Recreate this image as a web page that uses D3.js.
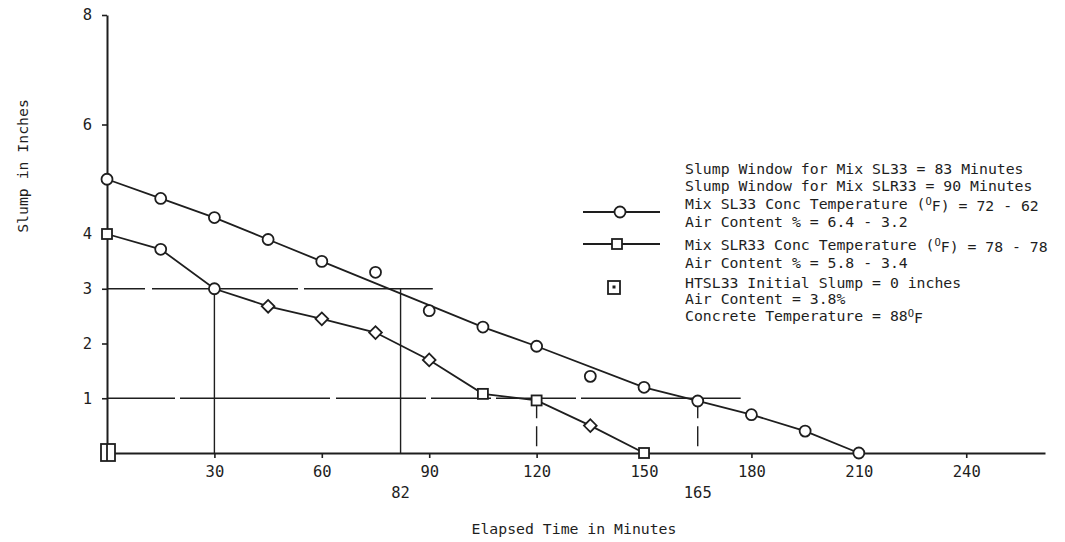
<!DOCTYPE html>
<html>
<head>
<meta charset="utf-8">
<script src="https://cdn.jsdelivr.net/npm/d3@7"></script>
<style>
  html, body { margin: 0; padding: 0; background: #fff; }
  svg { display: block; }
  text { font-family: "DejaVu Sans Mono", monospace; fill: #1e1e1e; }
</style>
</head>
<body>
<svg id="chart" width="1065" height="542"></svg>
<script>
// Slump loss over time for three concrete mixes
const sl33Times  = [0, 15, 30, 45, 60, 75, 90, 105, 120, 135, 150, 165, 180, 195, 210];
const sl33Values = [5.0, 4.65, 4.3, 3.9, 3.5, 3.3, 2.6, 2.3, 1.95, 1.4, 1.2, 0.95, 0.7, 0.4, 0.0];
// 1 = point lies on the drawn trend line, 0 = scatter point off the line
const sl33OnLine = [1, 1, 1, 1, 1, 0, 0, 1, 1, 0, 1, 1, 1, 1, 1];

const slr33Times  = [0, 15, 30, 45, 60, 75, 90, 105, 120, 135, 150];
const slr33Values = [4.0, 3.72, 3.0, 2.68, 2.45, 2.2, 1.7, 1.08, 0.96, 0.5, 0.0];
const slr33Shapes = ["square", "circle", "circle", "diamond", "diamond", "diamond", "diamond", "square", "square", "diamond", "square"];

const htsl33Times  = [0];
const htsl33Values = [0];

// slump-window construction lines (time in minutes, slump in inches)
const windowLevels = [3, 1];
const windowLevelEnds = [91, 177];
const windowTimes = [30, 82, 120, 165];
const windowTimeLevels = [3, 3, 1, 1];
const windowDashed = [false, false, true, true];

const xTickValues = [30, 60, 90, 120, 150, 180, 210, 240];
const windowTickLabels = [82, 165];
const yTickValues = [1, 2, 3, 4, 6, 8];

const legendLines = [
  ["Slump Window for Mix SL33 = 83 Minutes"],
  ["Slump Window for Mix SLR33 = 90 Minutes"],
  ["Mix SL33 Conc Temperature (", "O", "F) = 72 - 62"],
  ["Air Content % = 6.4 - 3.2"],
  ["Mix SLR33 Conc Temperature (", "O", "F) = 78 - 78"],
  ["Air Content % = 5.8 - 3.4"],
  ["HTSL33 Initial Slump = 0 inches"],
  ["Air Content = 3.8%"],
  ["Concrete Temperature = 88", "O", "F"]
];

const ink = "#1e1e1e";
const svg = d3.select("#chart");

const x = d3.scaleLinear().domain([0, 262]).range([107, 1045]);
const y = d3.scaleLinear().domain([0, 8]).range([453, 15]);

// axes
const xAxis = svg.append("g")
  .attr("transform", `translate(0,${y(0)})`)
  .call(d3.axisBottom(x).tickValues(xTickValues).tickSize(5).tickSizeOuter(0).tickFormat(d3.format("d")));
const yAxis = svg.append("g")
  .attr("transform", `translate(${x(0)},0)`)
  .call(d3.axisLeft(y).tickValues(yTickValues).tickSize(5).tickSizeOuter(0).tickFormat(d3.format("d")));

[xAxis, yAxis].forEach(g => {
  g.attr("font-size", null).attr("font-family", null);
  g.select(".domain").attr("stroke", ink).attr("stroke-width", 2);
  g.selectAll(".tick line").attr("stroke", ink).attr("stroke-width", 1.6);
  g.selectAll(".tick text")
    .attr("fill", ink)
    .style("font-family", "'DejaVu Sans Mono', monospace")
    .style("font-size", "15.5px");
});
xAxis.selectAll(".tick text").attr("dy", "1.0em");
yAxis.selectAll(".tick text").attr("x", -15);

// window labels below the time axis
svg.append("g").selectAll("text")
  .data(windowTickLabels)
  .join("text")
  .attr("x", d => x(d))
  .attr("y", 498)
  .attr("text-anchor", "middle")
  .style("font-size", "15.5px")
  .text(d => d);

// axis titles
svg.append("text")
  .attr("x", 574).attr("y", 534)
  .attr("text-anchor", "middle")
  .style("font-size", "14.8px")
  .text("Elapsed Time in Minutes");
svg.append("text")
  .attr("transform", "translate(28,166) rotate(-90)")
  .attr("text-anchor", "middle")
  .style("font-size", "14.8px")
  .text("Slump in Inches");

// construction lines
const ref = svg.append("g").attr("stroke", ink).attr("stroke-width", 1.4).attr("fill", "none");
ref.append("line")
  .attr("x1", x(0)).attr("x2", x(windowLevelEnds[0]))
  .attr("y1", y(windowLevels[0])).attr("y2", y(windowLevels[0]))
  .attr("stroke-dasharray", "38,7,60,8,78,6,140");
ref.append("line")
  .attr("x1", x(0)).attr("x2", x(windowLevelEnds[1]))
  .attr("y1", y(windowLevels[1])).attr("y2", y(windowLevels[1]))
  .attr("stroke-dasharray", "68,5,150,6,90,5,60,5,80,5,200");
ref.selectAll("line.v")
  .data(windowTimes.map((t, i) => ({ t, v: windowTimeLevels[i], dashed: windowDashed[i] })))
  .join("line")
  .attr("class", "v")
  .attr("x1", d => x(d.t)).attr("x2", d => x(d.t))
  .attr("y1", d => y(d.v)).attr("y2", y(0))
  .attr("stroke-dasharray", d => d.dashed ? "20,8" : null);

// series lines
const line = d3.line().x(d => x(d.t)).y(d => y(d.v));
const sl33Pts = sl33Times.map((t, i) => ({ t, v: sl33Values[i], on: sl33OnLine[i] }));
const slr33Pts = slr33Times.map((t, i) => ({ t, v: slr33Values[i], shape: slr33Shapes[i] }));

svg.append("path")
  .datum(sl33Pts.filter(d => d.on))
  .attr("d", line)
  .attr("fill", "none").attr("stroke", ink).attr("stroke-width", 1.8);
svg.append("path")
  .datum(slr33Pts)
  .attr("d", line)
  .attr("fill", "none").attr("stroke", ink).attr("stroke-width", 1.8);

// markers
function drawMarker(g, shape, cx, cy) {
  if (shape === "circle") {
    g.append("circle").attr("cx", cx).attr("cy", cy).attr("r", 5.5);
  } else if (shape === "square") {
    g.append("rect").attr("x", cx - 5).attr("y", cy - 5).attr("width", 10).attr("height", 10);
  } else if (shape === "diamond") {
    g.append("rect").attr("x", cx - 4.5).attr("y", cy - 4.5).attr("width", 9).attr("height", 9)
      .attr("transform", `rotate(45,${cx},${cy})`);
  }
}
const marks = svg.append("g").attr("fill", "#fff").attr("stroke", ink).attr("stroke-width", 1.8);
sl33Pts.forEach(d => drawMarker(marks, "circle", x(d.t), y(d.v)));
slr33Pts.forEach(d => drawMarker(marks, d.shape, x(d.t), y(d.v)));

// HTSL33 initial slump point
htsl33Times.forEach((t, i) => {
  const cx = x(t) + 1, cy = y(htsl33Values[i]);
  marks.append("rect").attr("x", cx - 7).attr("y", cy - 9).attr("width", 14).attr("height", 17);
  marks.append("line").attr("x1", cx - 1).attr("x2", cx - 1).attr("y1", cy - 9).attr("y2", cy + 8);
});

// legend
const legend = svg.append("g");
const legendY = [169, 186, 204, 222, 245, 263, 283, 299, 316];
legendLines.forEach((parts, i) => {
  const t = legend.append("text")
    .attr("x", 685).attr("y", legendY[i])
    .attr("dy", "0.35em")
    .style("font-size", "14.8px");
  parts.forEach((p, j) => {
    const isSup = parts.length > 1 && j === 1;
    const ts = t.append("tspan").text(p);
    if (isSup) ts.attr("dy", "-0.4em").style("font-size", "10.5px");
    else if (j === 2) ts.attr("dy", "0.4em");
  });
});
const lg = legend.append("g").attr("stroke", ink).attr("stroke-width", 1.8).attr("fill", "#fff");
lg.append("line").attr("x1", 583).attr("x2", 660).attr("y1", 212).attr("y2", 212);
drawMarker(lg, "circle", 620, 212);
lg.append("line").attr("x1", 583).attr("x2", 660).attr("y1", 244).attr("y2", 244);
drawMarker(lg, "square", 617, 244);
lg.append("rect").attr("x", 608).attr("y", 281).attr("width", 12).attr("height", 13);
lg.append("rect").attr("x", 613).attr("y", 286).attr("width", 2).attr("height", 2).attr("fill", ink).attr("stroke-width", 1);
</script>
</body>
</html>
